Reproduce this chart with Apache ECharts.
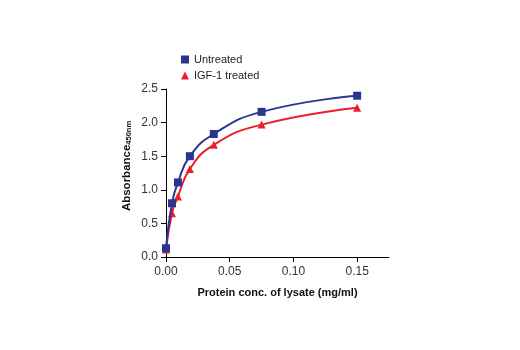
<!DOCTYPE html>
<html><head><meta charset="utf-8">
<script src="https://cdn.jsdelivr.net/npm/echarts@6/dist/echarts.min.js"></script>
<style>html,body{margin:0;padding:0;background:#fff}#c{width:520px;height:350px}</style>
</head><body><div id="c"></div>
<script>
const concentrations = [0, 0.0046875, 0.009375, 0.01875, 0.0375, 0.075, 0.15];
const untreated = [0.13, 0.80, 1.11, 1.50, 1.83, 2.16, 2.40];
const igf1Treated = [0.11, 0.65, 0.90, 1.31, 1.67, 1.97, 2.22];
const xTicks = [0, 0.05, 0.10, 0.15];
const yTicks = [0, 0.5, 1.0, 1.5, 2.0, 2.5];
const seriesNames = ['Untreated', 'IGF-1 treated'];

const FONT = '"Liberation Sans", Arial, sans-serif';
const BLUE = '#2b3590';
const RED = '#e8202a';

const chart = echarts.init(document.getElementById('c'));
chart.setOption({
  animation: false,
  textStyle: { fontFamily: FONT },
  grid: { left: 166, right: 131, top: 89, bottom: 93, containLabel: false },
  legend: {
    left: 176, top: 49, orient: 'vertical', itemGap: 5,
    itemWidth: 8, itemHeight: 8,
    textStyle: { fontFamily: FONT, fontSize: 11, color: '#222' },
    data: [
      { name: seriesNames[0], icon: 'rect' },
      { name: seriesNames[1], icon: 'triangle' }
    ]
  },
  xAxis: {
    type: 'value', min: 0, max: 0.175, interval: 0.05,
    name: 'Protein conc. of lysate (mg/ml)', nameLocation: 'middle', nameGap: 30,
    nameTextStyle: { fontFamily: FONT, fontSize: 11, fontWeight: 'bold', color: '#111' },
    axisLine: { lineStyle: { color: '#000', width: 1 } },
    axisTick: { show: true, length: 5, lineStyle: { color: '#000' }, customValues: xTicks },
    axisLabel: { fontFamily: FONT, fontSize: 12, color: '#333', margin: 9,
      customValues: xTicks, formatter: v => v.toFixed(2) },
    splitLine: { show: false }
  },
  yAxis: {
    type: 'value', min: 0, max: 2.5, interval: 0.5,
    name: '{b|Absorbance}{s|450nm}', nameLocation: 'middle', nameGap: 33, nameRotate: 90,
    nameTextStyle: { padding: [0, 0, 0, 14], rich: {
      b: { fontFamily: FONT, fontSize: 11.5, fontWeight: 'bold', color: '#111' },
      s: { fontFamily: FONT, fontSize: 7.5, fontWeight: 'bold', color: '#111', verticalAlign: 'bottom', padding: [4,0,0,0] }
    } },
    axisLine: { show: true, lineStyle: { color: '#000', width: 1 } },
    axisTick: { show: true, length: 5, lineStyle: { color: '#000' } },
    axisLabel: { fontFamily: FONT, fontSize: 12, color: '#333', margin: 8,
      customValues: yTicks, formatter: v => v.toFixed(1) },
    splitLine: { show: false }
  },
  series: [
    {
      name: seriesNames[0], type: 'line', smooth: 0.5,
      data: concentrations.map((x, i) => [x, untreated[i]]),
      symbol: 'rect', symbolSize: 8,
      itemStyle: { color: BLUE }, lineStyle: { color: BLUE, width: 2 }, z: 3
    },
    {
      name: seriesNames[1], type: 'line', smooth: 0.5,
      data: concentrations.map((x, i) => [x, igf1Treated[i]]),
      symbol: 'triangle', symbolSize: 8,
      itemStyle: { color: RED }, lineStyle: { color: RED, width: 2 }, z: 2
    }
  ]
});
</script></body></html>
